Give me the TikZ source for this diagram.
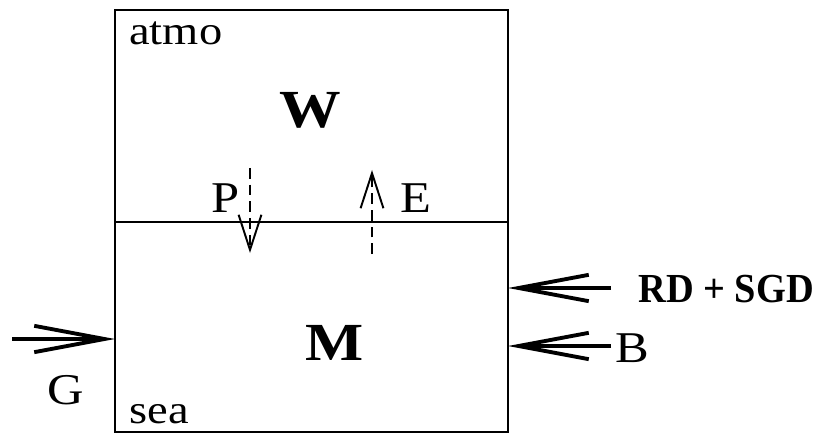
\documentclass[tikz,border=0pt]{standalone}
\usepackage{fontspec}
\setmainfont{Liberation Serif}[FakeStretch=1.15]
\newfontfamily\rdfont{Liberation Serif}[FakeStretch=0.93]
\usetikzlibrary{arrows.meta}

\begin{document}
\begin{tikzpicture}[
    x=0.02cm, y=-0.02cm,
    lbl/.style={inner sep=0pt, font=\fontsize{25}{25}\selectfont},
    tag/.style={inner sep=0pt, anchor=west, font=\fontsize{23}{23}\selectfont},
    res/.style={inner sep=0pt, font=\fontsize{30.5}{30.5}\selectfont\bfseries},
    flux/.style={-{Straight Barb[length=40pt, width=15pt]}, line width=2.2pt},
    vflux/.style={-{Straight Barb[length=20pt, width=13pt]}, line width=1.1pt, dash pattern=on 6pt off 3.5pt}
]
    \useasboundingbox (0,0) rectangle (820,435);

    % reservoirs
    \draw[line width=1.4pt] (115,10) rectangle (508,432);
    \draw[line width=0.8pt] (115,222) -- (508,222);

    \node[tag] (atmo) at (129,33) {atmo};
    \node[tag] (sea) at (129,414) {sea};
    \node[res] (W) at (310,110) {W};
    \node[res] (M) at (335,343) {M};

    % exchange atmo <-> sea
    \coordinate (Ptop) at (250,168);
    \coordinate (Pbot) at (250,253);
    \coordinate (Ebot) at (372,254);
    \coordinate (Etop) at (372,170);
    \node[lbl] (P) at (226,198) {P};
    \node[lbl] (E) at (416,198) {E};
    \draw[vflux] (Ptop) -- (Pbot);
    \draw[vflux] (Ebot) -- (Etop);

    % lateral inputs
    \coordinate (Gin) at (12,339);
    \coordinate (Gend) at (115,339);
    \coordinate (RDin) at (611,288);
    \coordinate (RDend) at (508,288);
    \coordinate (Bin) at (611,346);
    \coordinate (Bend) at (508,346);
    \node[lbl] (G) at (66,390) {G};
    \node[lbl, anchor=west] (B) at (615,348) {B};
    \node[lbl, anchor=west, font=\rdfont\fontsize{23.5}{23.5}\selectfont\bfseries] (RD) at (638,289) {RD + SGD};
    \draw[flux] (Gin) -- (Gend);
    \draw[flux] (RDin) -- (RDend);
    \draw[flux] (Bin) -- (Bend);
\end{tikzpicture}
\end{document}
